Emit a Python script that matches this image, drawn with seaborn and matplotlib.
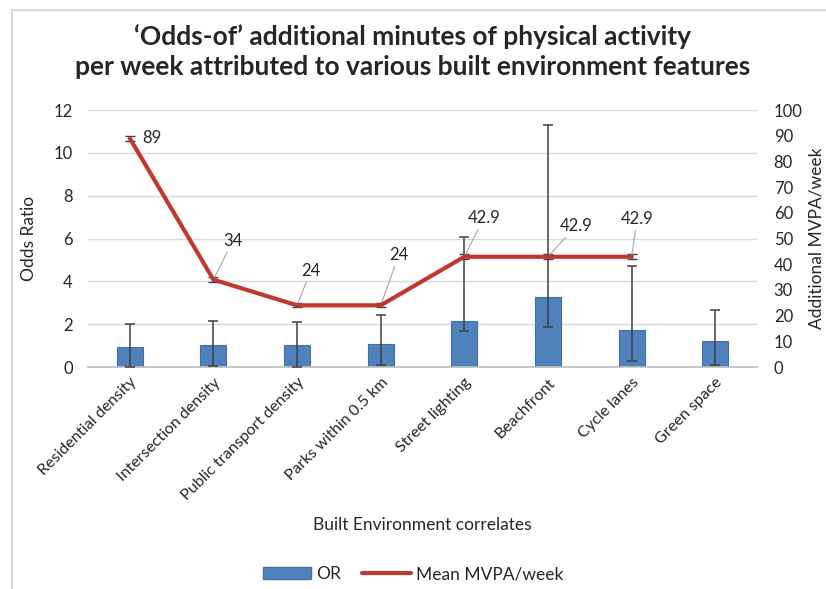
import numpy as np
import matplotlib.pyplot as plt
import seaborn as sns
from matplotlib.lines import Line2D
from matplotlib.patches import Patch

# data
categories = ['Residential density', 'Intersection density', 'Public transport density',
              'Parks within 0.5 km', 'Street lighting', 'Beachfront', 'Cycle lanes', 'Green space']
odds_ratio = [0.95, 1.02, 1.02, 1.08, 2.15, 3.25, 1.75, 1.2]
or_low = [0.0, 0.05, 0.0, 0.08, 1.68, 1.87, 0.27, 0.08]
or_high = [2.03, 2.17, 2.08, 2.42, 6.07, 11.3, 4.72, 2.68]

mvpa = [89, 34, 24, 24, 42.9, 42.9, 42.9]
mvpa_err = [1.0, 1.0, 0.8, 0.8, 1.0, 1.0, 1.0]
mvpa_labels = ['89', '34', '24', '24', '42.9', '42.9', '42.9']
# label offsets in points (dx, dy) from each point
label_offsets = [(16, 0), (14, 28), (10, 25), (13, 36), (14, 28), (20, 22), (4, 27)]

bar_color = '#4F81BD'
line_color = '#C0392F'
text_color = '#262626'

sns.set_theme(style='white')
plt.rcParams['font.family'] = ['Lato', 'DejaVu Sans']

fig = plt.figure(figsize=(8.26, 5.89), dpi=100)
ax = fig.add_axes([0.1065, 0.3769, 0.81, 0.4363])

x = np.arange(len(categories))
sns.barplot(x=x, y=odds_ratio, ax=ax, color=bar_color, width=0.31,
            edgecolor='#41719C', linewidth=0.8, saturation=1, native_scale=True)
yerr = [np.array(odds_ratio) - np.array(or_low), np.array(or_high) - np.array(odds_ratio)]
ax.errorbar(x, odds_ratio, yerr=yerr, fmt='none', ecolor='#404040',
            elinewidth=1.1, capsize=3.5, capthick=1.1, zorder=3)

ax.set_xlim(-0.5, 7.5)
ax.set_ylim(0, 12)
ax.set_yticks(range(0, 13, 2))
ax.grid(axis='y', color='#D9D9D9', linewidth=1)
ax.set_axisbelow(True)
for s in ['top', 'right', 'left']:
    ax.spines[s].set_visible(False)
ax.spines['bottom'].set_color('#BFBFBF')
ax.tick_params(axis='both', length=0, labelsize=12, colors=text_color)
ax.tick_params(axis='y', pad=11)
ax.tick_params(axis='x', pad=6, labelsize=11.5)
ax.set_xticks(x)
ax.set_xticklabels(categories, rotation=45, ha='right', rotation_mode='anchor')
ax.set_ylabel('Odds Ratio', fontsize=12.5, color=text_color, labelpad=12)
ax.set_xlabel('Built Environment correlates', fontsize=12.5, color=text_color, labelpad=10)

ax2 = ax.twinx()
xl = x[:len(mvpa)]
sns.lineplot(x=xl, y=mvpa, ax=ax2, color=line_color, linewidth=3, zorder=4)
ax2.errorbar(xl, mvpa, yerr=mvpa_err, fmt='none', ecolor='#404040',
             elinewidth=1, capsize=3.5, capthick=1, zorder=3)
ax2.set_ylim(0, 100)
ax2.set_yticks(range(0, 101, 10))
for s in ['top', 'right', 'left', 'bottom']:
    ax2.spines[s].set_visible(False)
ax2.tick_params(axis='y', length=0, labelsize=12, colors=text_color, pad=12)
ax2.set_ylabel('Additional MVPA/week', fontsize=12.5, color=text_color, labelpad=4)

for xi, yi, lab, (dx, dy) in zip(xl, mvpa, mvpa_labels, label_offsets):
    if dy == 0:
        ax2.annotate(lab, (xi, yi), xytext=(dx, 0), textcoords='offset points',
                     ha='center', va='center', fontsize=12, color=text_color)
    else:
        ax2.annotate(lab, (xi, yi), xytext=(dx, dy), textcoords='offset points',
                     ha='center', va='center', fontsize=12, color=text_color,
                     arrowprops=dict(arrowstyle='-', color='#A6A6A6', lw=0.8,
                                     shrinkA=0, shrinkB=0))

fig.text(0.5, 0.912, '\u2018Odds-of\u2019 additional minutes of physical activity\n'
         'per week attributed to various built environment features',
         ha='center', va='center', fontsize=19, fontweight='bold',
         color='#262626', linespacing=1.3)

handles = [Patch(facecolor=bar_color, edgecolor='#41719C'),
           Line2D([0], [0], color=line_color, linewidth=3)]
fig.legend(handles, ['OR', 'Mean MVPA/week'], loc='center', bbox_to_anchor=(0.5, 0.025),
           ncol=2, frameon=False, fontsize=12.5, handlelength=2.8, columnspacing=1.2,
           handletextpad=0.3)

# chart border (left and top edges visible in the reference crop)
fig.add_artist(Line2D([12 / 826, 12 / 826], [0, 1 - 10 / 589], color='#D0D0D0', lw=1.2))
fig.add_artist(Line2D([12 / 826, 1], [1 - 10 / 589, 1 - 10 / 589], color='#D0D0D0', lw=1.2))

fig.savefig('out.png', dpi=100, facecolor='white')
